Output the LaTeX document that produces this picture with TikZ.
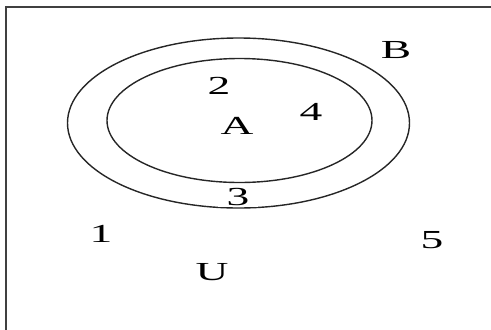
\documentclass[tikz,border=0pt]{standalone}
\usepackage{fontspec}
\setmainfont{Liberation Serif}
\usetikzlibrary{positioning}

\begin{document}
\begin{tikzpicture}[
        x=1pt, y=-1pt,
        every node/.style={font=\fontsize{26}{28}\selectfont, inner sep=0pt},
        lbl/.style={xscale=1.75, transform shape},
        frame/.style={draw=black!75, line width=1.8pt},
        setline/.style={draw=black!85, line width=1.4pt}
    ]
        \useasboundingbox (0,0) rectangle (491,330);

        % universe box (right and bottom edges fall outside the image)
        \coordinate (ubl) at (6,340);
        \coordinate (utl) at (6,7);
        \coordinate (utr) at (500,7);
        \draw[frame] (ubl) -- (utl) -- (utr);

        % sets A inside B
        \draw[setline] (238.5,123) ellipse [x radius=171, y radius=85];
        \draw[setline] (239.5,120.5) ellipse [x radius=132.5, y radius=62];

        \node[lbl] (labelB) at (396,50) {B};
        \node[lbl] (labelA) at (237,126) {A};
        \node[lbl] (two) at (219,86) {2};
        \node[lbl] (four) at (311,112) {4};
        \node[lbl, fill=white, inner xsep=5pt, inner ysep=1pt] (three) at (238,197) {3};
        \node[lbl] (one) at (101,234) {1};
        \node[lbl] (five) at (432,240) {5};
        \node[lbl] (labelU) at (212,272) {U};
    \end{tikzpicture}
\end{document}
